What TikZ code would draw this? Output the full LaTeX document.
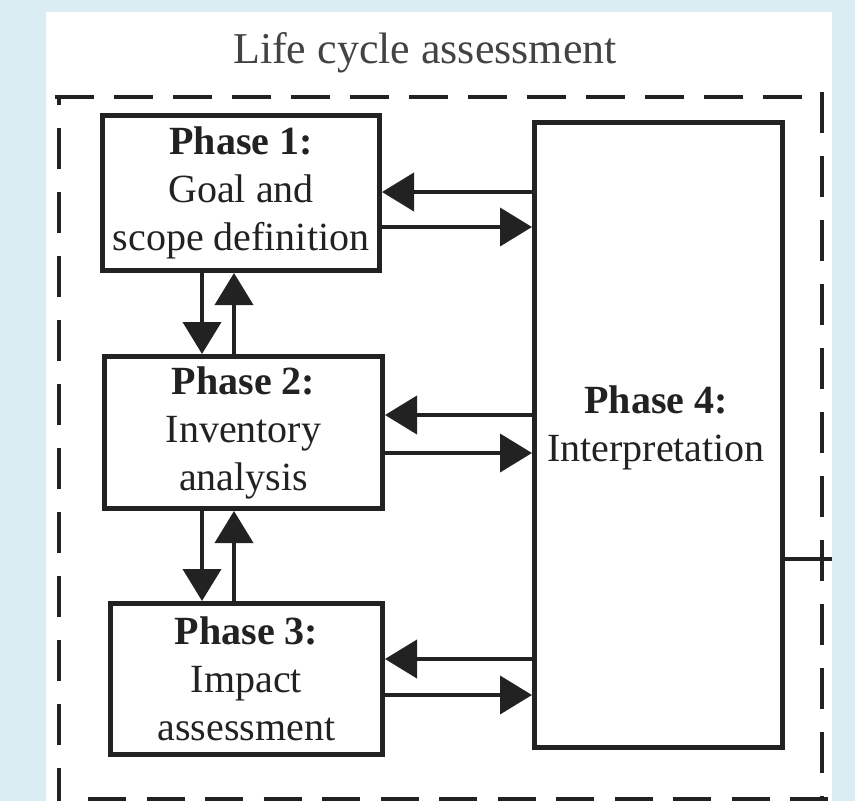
\documentclass[tikz,border=0pt]{standalone}
\usepackage{fontspec}
\setmainfont{Liberation Serif}
\usetikzlibrary{arrows.meta}
\definecolor{bgblue}{HTML}{DAEDF3}
\definecolor{ink}{HTML}{222222}
\begin{document}
\begin{tikzpicture}[x=1pt,y=-1pt,
  phase/.style={draw=ink, line width=5pt, fill=white, align=center, inner sep=0pt,
    font=\fontsize{40}{48}\selectfont, text=ink},
  phasetext/.style={align=center, inner sep=0pt, font=\fontsize{40}{48}\selectfont, text=ink},
  conn/.style={draw=ink, line width=4pt, -{Triangle[length=32pt,width=38pt]}},
  plainline/.style={draw=ink, line width=4pt},
  frameline/.style={draw=ink, line width=4pt}]
\useasboundingbox (0,0) rectangle (855,801);
\fill[bgblue] (0,0) rectangle (855,801);
\fill[white] (46,12) rectangle (832,801);

% title
\node[anchor=base, inner sep=0pt, font=\fontsize{44}{50}\selectfont, text=ink!85] (title) at (425,63) {Life cycle assessment};

% dashed frame
\draw[frameline, dash pattern=on 39pt off 20pt] (55,97) -- (802,97);
\draw[frameline, dash pattern=on 41pt off 23pt, dash phase=33pt] (59,97) -- (59,801);
\draw[frameline, dash pattern=on 41pt off 23pt] (822,92) -- (822,801);
\draw[frameline, dash pattern=on 38pt off 20.5pt] (88,799) -- (830,799);

% phases
\node[phase, minimum width=277pt, minimum height=155pt] (p1) at (241,193)
  {\textbf{Phase 1:}\\Goal and\\scope definition};
\node[phase, minimum width=278pt, minimum height=152pt] (p2) at (243.5,432.5)
  {\textbf{Phase 2:}\\Inventory\\analysis};
\node[phase, minimum width=272pt, minimum height=151pt] (p3) at (246.5,679)
  {\textbf{Phase 3:}\\Impact\\assessment};
\node[phase, minimum width=248pt, minimum height=625pt] (p4) at (658.5,435) {};
\node[phasetext] (p4t) at (656,428) {\textbf{Phase 4:}\\Interpretation};

% level coordinates
\coordinate (h1a) at (0,192);
\coordinate (h1b) at (0,227);
\coordinate (h2a) at (0,415);
\coordinate (h2b) at (0,453);
\coordinate (h3a) at (0,659);
\coordinate (h3b) at (0,695);
\coordinate (vd) at (202,0);
\coordinate (vu) at (234,0);
\coordinate (out) at (832,559);

% horizontal arrows
\draw[conn] (p4.west |- h1a) -- (p1.east |- h1a);
\draw[conn] (p1.east |- h1b) -- (p4.west |- h1b);
\draw[conn] (p4.west |- h2a) -- (p2.east |- h2a);
\draw[conn] (p2.east |- h2b) -- (p4.west |- h2b);
\draw[conn] (p4.west |- h3a) -- (p3.east |- h3a);
\draw[conn] (p3.east |- h3b) -- (p4.west |- h3b);

% vertical arrows
\draw[conn] (p1.south -| vd) -- (p2.north -| vd);
\draw[conn] (p2.north -| vu) -- (p1.south -| vu);
\draw[conn] (p2.south -| vd) -- (p3.north -| vd);
\draw[conn] (p3.north -| vu) -- (p2.south -| vu);

% output line
\draw[plainline] (p4.east |- out) -- (out);
\end{tikzpicture}
\end{document}
